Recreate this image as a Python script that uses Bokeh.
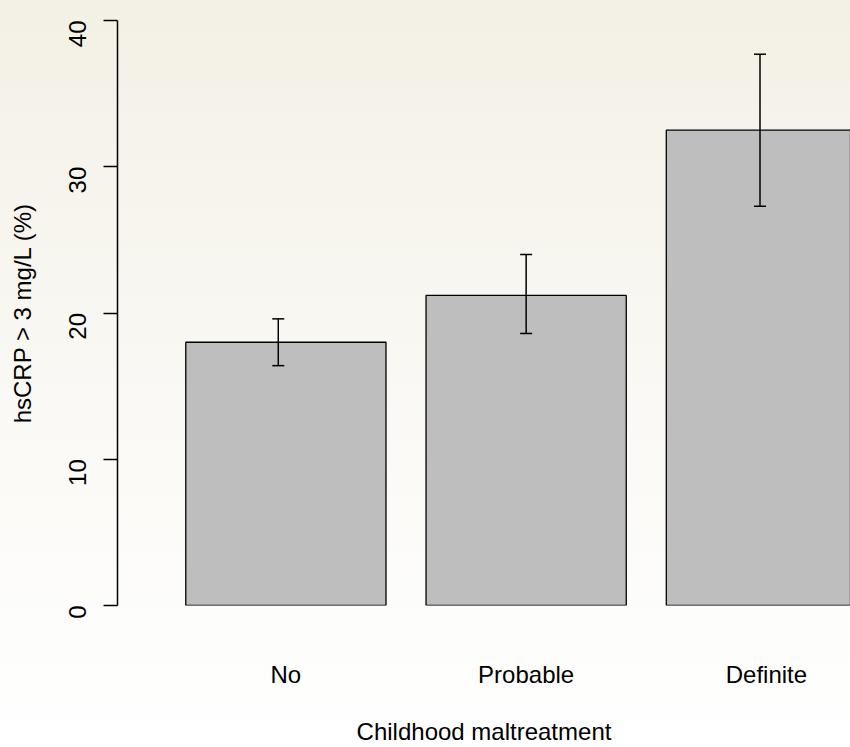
import math
from bokeh.plotting import figure
from bokeh.models import (ColumnDataSource, Range1d, FixedTicker, Whisker, TeeHead)
from bokeh.embed import file_html
from bokeh.resources import INLINE

# ---- data ----
categories = ["No", "Probable", "Definite"]
bar_x = [0.7, 1.9, 3.1]
percent = [18.0, 21.2, 32.5]
ci_lower = [16.4, 18.6, 27.3]
ci_upper = [19.6, 24.0, 37.7]
err_x = [0.662, 1.9, 3.068]
y_ticks = [0, 10, 20, 30, 40]

FONT = "Liberation Sans"
FS = "24px"

bars = ColumnDataSource(dict(x=bar_x, top=percent, cat=categories))
errs = ColumnDataSource(dict(x=err_x, lower=ci_lower, upper=ci_upper))

p = figure(width=850, height=747, output_backend="svg", toolbar_location=None,
           x_range=Range1d(-0.141, 3.520), y_range=Range1d(0, 40),
           min_border_left=117, min_border_right=0, min_border_top=20,
           min_border_bottom=139)
p.styles = {"background": "linear-gradient(to bottom, #F3F0E5 0%, #FAF9F5 55%, #FFFFFF 100%)"}
p.border_fill_color = None
p.background_fill_color = None
p.outline_line_color = None
p.grid.visible = False

p.vbar(x="x", top="top", bottom=0, width=1.0, source=bars,
       fill_color="#BEBEBE", line_color="black", line_width=1.3)

w = Whisker(base="x", lower="lower", upper="upper", source=errs,
            line_color="black", line_width=1.5, level="overlay",
            upper_head=TeeHead(size=12, line_color="black", line_width=1.5),
            lower_head=TeeHead(size=12, line_color="black", line_width=1.5))
p.add_layout(w)

# y axis
ya = p.yaxis[0]
ya.ticker = FixedTicker(ticks=y_ticks, minor_ticks=[])
ya.major_label_orientation = math.pi / 2
ya.major_tick_out = 14
ya.major_tick_in = 0
ya.major_tick_line_width = 1.5
ya.axis_line_width = 1.5
ya.minor_tick_line_color = None
ya.major_label_standoff = 26
ya.major_label_text_font = FONT
ya.major_label_text_font_size = FS
ya.major_label_text_color = "black"
ya.axis_label = "hsCRP > 3 mg/L (%)"
ya.axis_label_text_font = FONT
ya.axis_label_text_font_size = FS
ya.axis_label_text_font_style = "normal"
ya.axis_label_text_color = "black"
ya.axis_label_standoff = 22

# x axis
xa = p.xaxis[0]
xa.ticker = FixedTicker(ticks=bar_x, minor_ticks=[])
xa.major_label_overrides = {bx: c for bx, c in zip(bar_x, categories)}
xa.axis_line_color = None
xa.major_tick_line_color = None
xa.minor_tick_line_color = None
xa.major_tick_out = 0
xa.major_tick_in = 0
xa.major_label_standoff = 55
xa.major_label_text_font = FONT
xa.major_label_text_font_size = FS
xa.major_label_text_color = "black"
xa.axis_label = "Childhood maltreatment"
xa.axis_label_text_font = FONT
xa.axis_label_text_font_size = FS
xa.axis_label_text_font_style = "normal"
xa.axis_label_text_color = "black"
xa.axis_label_standoff = 27

open("out.html", "w").write(file_html(p, INLINE))
